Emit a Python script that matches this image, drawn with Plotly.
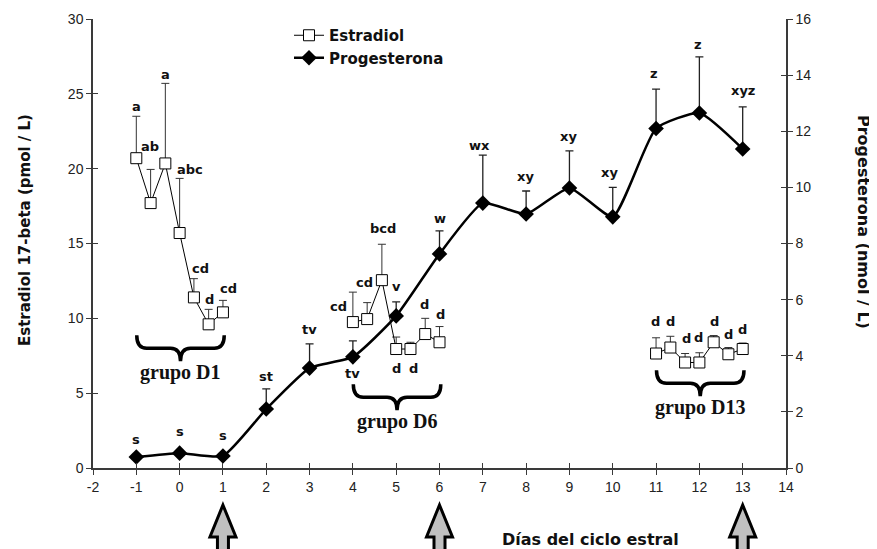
import plotly.graph_objects as go

# ---------------- data ----------------
# Estradiol 17-beta (pmol/L), three sampling groups
d1_days = [-1, -0.67, -0.33, 0, 0.33, 0.67, 1]
d1_vals = [20.7, 17.7, 20.35, 15.7, 11.4, 9.6, 10.4]
d1_err = [2.8, 2.25, 5.35, 3.65, 1.25, 1.0, 0.8]
d1_labels = ["a", "ab", "a", "abc", "cd", "d", "cd"]

d6_days = [4, 4.33, 4.67, 5, 5.33, 5.67, 6]
d6_vals = [9.75, 9.95, 12.55, 7.95, 7.95, 8.95, 8.4]
d6_err = [2.0, 1.1, 2.4, 0.8, 0.45, 1.05, 1.05]
d6_labels = ["cd", "cd", "bcd", "d", "d", "d", "d"]

d13_days = [11, 11.33, 11.67, 12, 12.33, 12.67, 13]
d13_vals = [7.65, 8.05, 7.05, 7.05, 8.4, 7.6, 7.95]
d13_err = [1.05, 0.75, 0.6, 0.65, 0.45, 0.45, 0.4]
d13_labels = ["d", "d", "d", "d", "d", "d", "d"]

# Progesterona (nmol/L)
prog_days = [-1, 0, 1, 2, 3, 4, 5, 6, 7, 8, 9, 10, 11, 12, 13]
prog_vals = [0.39, 0.53, 0.43, 2.1, 3.56, 3.96, 5.42, 7.63, 9.44, 9.05, 9.98, 8.95, 12.1, 12.65, 11.37]
prog_err = [0, 0, 0, 0.72, 0.86, 0.57, 0.5, 0.82, 1.71, 0.82, 1.32, 1.05, 1.4, 2.0, 1.5]
prog_labels = ["s", "s", "s", "st", "tv", "tv", "v", "w", "wx", "xy", "xy", "xy", "z", "z", "xyz"]

group_names = ["grupo D1", "grupo D6", "grupo D13"]
group_start = [-1, 4, 11]
group_end = [1, 6, 13]

arrow_days = [1, 6, 13]

x_ticks = [-2, -1, 0, 1, 2, 3, 4, 5, 6, 7, 8, 9, 10, 11, 12, 13, 14]
x_tick_text = ["-2", "-1", "0", "1", "2", "3", "4", "5", "6", "7", "8", "9", "10", "11", "12", "13", "14"]
y1_ticks = [0, 5, 10, 15, 20, 25, 30]
y2_ticks = [0, 2, 4, 6, 8, 10, 12, 14, 16]

# ---------------- layout / style ----------------
# the page body adds an 8px offset; compensate so the plot sits at window pixels
OFF = 8
W, H = 877, 549
ML, MR, MT, MB = 93, 91, 19, 81          # in window pixels
PW, PH = W - ML - MR, H - MT - MB
XR = [-2, 14]
Y1R = [0, 30]
Y2R = [0, 16]
px_day = PW / (XR[1] - XR[0])
px_y1 = PH / (Y1R[1] - Y1R[0])

# label offsets (pixels: dx, dy-up) relative to top of error bar
d1_off = [(0, 10), (-1, 23), (0, 9), (10, 9), (7, 10), (1, 10), (6, 12)]
d6_off = [(-14, -14), (-3, 20), (1, 16), (0, -31), (3, -26), (-1, 14), (1, 12)]
d13_off = [(-1, 16), (0, 15), (1, 15), (-1, 15), (1, 14), (0, 13), (0, 14)]
prog_off = [(0, 18), (0, 22), (0, 20), (0, 12), (0, 14), (0, -33), (0, 15), (0, 12),
            (-3, 10), (-1, 15), (-1, 14), (-3, 15), (-2, 16), (-1, 12), (0, 16)]
brace_top = [8.87, 5.6, 6.53]   # left-axis units

BOLD = "DejaVu Sans"
LBL_FONT = dict(family=BOLD, size=13, color="#111", weight="bold")

# combine Estradiol groups with gaps
est_x, est_y, est_e = [], [], []
for dd, vv, ee in [(d1_days, d1_vals, d1_err), (d6_days, d6_vals, d6_err), (d13_days, d13_vals, d13_err)]:
    if est_x:
        est_x.append(None); est_y.append(None); est_e.append(None)
    est_x += dd; est_y += vv; est_e += ee

fig = go.Figure()

fig.add_trace(go.Scatter(
    x=prog_days, y=prog_vals, yaxis="y2", name="Progesterona",
    mode="lines+markers", legendrank=2,
    line=dict(color="black", width=2.5, shape="spline", smoothing=0.5),
    marker=dict(symbol="diamond", size=12, color="black"),
    error_y=dict(type="data", symmetric=False, array=prog_err,
                 arrayminus=[0] * len(prog_err), color="#222", thickness=1.3, width=4),
))

fig.add_trace(go.Scatter(
    x=est_x, y=est_y, name="Estradiol", mode="lines+markers", legendrank=1,
    connectgaps=False,
    line=dict(color="black", width=1),
    marker=dict(symbol="square", size=11, color="white", line=dict(color="black", width=1)),
    error_y=dict(type="data", symmetric=False, array=est_e,
                 arrayminus=[0 if v is not None else None for v in est_e],
                 color="#333", thickness=1, width=4),
))

# empty traces for overlay axes (inside ticks -> crossing ticks)
fig.add_trace(go.Scatter(x=[], y=[], xaxis="x2", yaxis="y3", showlegend=False))
fig.add_trace(go.Scatter(x=[], y=[], yaxis="y4", showlegend=False))

ann = []
for dd, vv, ee, ll, oo in [(d1_days, d1_vals, d1_err, d1_labels, d1_off),
                           (d6_days, d6_vals, d6_err, d6_labels, d6_off),
                           (d13_days, d13_vals, d13_err, d13_labels, d13_off)]:
    for d, v, e, l, o in zip(dd, vv, ee, ll, oo):
        ann.append(dict(x=d, y=v + e, xref="x", yref="y", text=l, showarrow=False,
                        xanchor="center", yanchor="middle",
                        xshift=o[0], yshift=o[1], font=LBL_FONT))
for d, v, e, l, o in zip(prog_days, prog_vals, prog_err, prog_labels, prog_off):
    ann.append(dict(x=d, y=v + e, xref="x", yref="y2", text=l, showarrow=False,
                    xanchor="center", yanchor="middle",
                    xshift=o[0], yshift=o[1], font=LBL_FONT))

shapes = []
# braces
r = 10 / px_day
for name, s, e, top in zip(group_names, group_start, group_end, brace_top):
    x0, x1 = s + 0.01, e + 0.03
    xm = (x0 + x1) / 2
    ybar = top - 13 / px_y1
    ytip = top - 26 / px_y1
    path = (f"M {x0},{top} Q {x0},{ybar} {x0 + r},{ybar} L {xm - r},{ybar} "
            f"Q {xm},{ybar} {xm},{ytip} Q {xm},{ybar} {xm + r},{ybar} "
            f"L {x1 - r},{ybar} Q {x1},{ybar} {x1},{top}")
    shapes.append(dict(type="path", path=path, xref="x", yref="y",
                       line=dict(color="black", width=3.5)))
    ann.append(dict(x=xm, y=top, xref="x", yref="y", text=f"<b>{name}</b>", showarrow=False,
                    xanchor="center", yanchor="middle",
                    yshift=-37, font=dict(family="Liberation Serif", size=20, color="#111")))

# arrows below axis (paper coords)
def px_to_paper_y(py):
    return (H - MB - py) / PH

def px_to_paper_x(px):
    return (px - ML) / PW

hw = 13 / PW
sw = 5.5 / PW
tip, base, bot = px_to_paper_y(505), px_to_paper_y(537), px_to_paper_y(553)
for d in arrow_days:
    cx = (d - XR[0]) / (XR[1] - XR[0])
    path = (f"M {cx},{tip} L {cx + hw},{base} L {cx + sw},{base} L {cx + sw},{bot} "
            f"L {cx - sw},{bot} L {cx - sw},{base} L {cx - hw},{base} Z")
    shapes.append(dict(type="path", path=path, xref="paper", yref="paper",
                       fillcolor="#c0c0c0", line=dict(color="black", width=3)))

# axis titles
ann.append(dict(x=px_to_paper_x(25), y=px_to_paper_y(230), xref="paper", yref="paper",
                xanchor="center", yanchor="middle",
                text="<b>Estradiol 17-beta (pmol / L)</b>", textangle=-90, showarrow=False,
                font=dict(family=BOLD, size=15, color="#111")))
ann.append(dict(x=px_to_paper_x(863), y=px_to_paper_y(222), xref="paper", yref="paper",
                xanchor="center", yanchor="middle",
                text="<b>Progesterona (nmol / L)</b>", textangle=90, showarrow=False,
                font=dict(family=BOLD, size=16, color="#111")))
ann.append(dict(x=px_to_paper_x(590), y=px_to_paper_y(539), xref="paper", yref="paper",
                xanchor="center", yanchor="middle",
                text="<b>Días del ciclo estral</b>", showarrow=False,
                font=dict(family=BOLD, size=16, color="#111")))

AX_LINE = "#3a3a3a"
TICK_FONT = dict(family="Liberation Sans", size=14, color="#222")

fig.update_layout(
    width=W - OFF, height=H - OFF,
    margin=dict(l=ML - OFF, r=MR, t=MT - OFF, b=MB, autoexpand=False),
    paper_bgcolor="white", plot_bgcolor="white",
    showlegend=True,
    legend=dict(x=px_to_paper_x(289), y=px_to_paper_y(19), xanchor="left", yanchor="top",
                bgcolor="rgba(0,0,0,0)", traceorder="normal", tracegroupgap=6,
                font=dict(family=BOLD, size=15, color="#111", weight="bold"), itemwidth=30),
    xaxis=dict(range=XR, tickvals=x_ticks, ticktext=x_tick_text, ticks="outside", ticklen=5,
               tickwidth=1, tickcolor=AX_LINE, showline=True, linecolor=AX_LINE, linewidth=1.5,
               showgrid=False, zeroline=False, tickfont=TICK_FONT, anchor="y"),
    xaxis2=dict(range=XR, tickvals=x_ticks, ticks="inside", ticklen=5, tickwidth=1,
                tickcolor=AX_LINE, showticklabels=False, showgrid=False, zeroline=False,
                showline=False, overlaying="x", anchor="y"),
    yaxis=dict(range=Y1R, tickvals=y1_ticks, ticks="outside", ticklen=5, tickwidth=1,
               tickcolor=AX_LINE, showline=True, linecolor=AX_LINE, linewidth=1.5,
               showgrid=False, zeroline=False, tickfont=TICK_FONT, anchor="x"),
    yaxis2=dict(range=Y2R, tickvals=y2_ticks, ticks="outside", ticklen=5, tickwidth=1,
                tickcolor=AX_LINE, showline=True, linecolor=AX_LINE, linewidth=1.5,
                showgrid=False, zeroline=False, tickfont=TICK_FONT, side="right",
                overlaying="y", anchor="x"),
    yaxis3=dict(range=Y1R, tickvals=y1_ticks, ticks="inside", ticklen=5, tickwidth=1,
                tickcolor=AX_LINE, showticklabels=False, showgrid=False, zeroline=False,
                showline=False, overlaying="y", anchor="x"),
    yaxis4=dict(range=Y2R, tickvals=y2_ticks, ticks="inside", ticklen=5, tickwidth=1,
                tickcolor=AX_LINE, showticklabels=False, showgrid=False, zeroline=False,
                showline=False, side="right", overlaying="y", anchor="x"),
    annotations=ann, shapes=shapes,
)

fig.write_html("out.html")
